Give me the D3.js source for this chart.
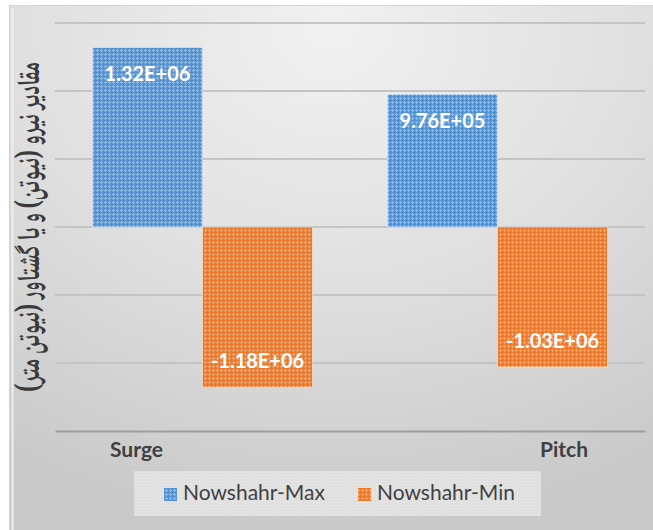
<!DOCTYPE html>
<html>
<head>
<meta charset="utf-8">
<script src="https://cdn.jsdelivr.net/npm/d3@7"></script>
<style>
  body { margin: 0; background: #ffffff; }
  svg { display: block; }
</style>
</head>
<body>
<svg id="chart" width="653" height="530"></svg>
<script>
// Chart data
const categories = ["Surge", "Pitch"];
const seriesNames = ["Nowshahr-Max", "Nowshahr-Min"];
const maxValues = [1.32e6, 9.76e5];
const minValues = [-1.18e6, -1.03e6];
const yTicks = [-1.5e6, -1e6, -5e5, 0, 5e5, 1e6, 1.5e6];
const yTitle = "مقادیر نیرو (نیوتن) و یا گشتاور (نیوتن متر)";

const seriesColors = {
  "Nowshahr-Max": { base: "#5693d3", light: "#8ebbe6" },
  "Nowshahr-Min": { base: "#ec7a2e", light: "#f5a56c" }
};

const rows = categories.map((c, i) => ({
  category: c,
  values: [
    { series: seriesNames[0], value: maxValues[i] },
    { series: seriesNames[1], value: minValues[i] }
  ]
}));

// Excel-style scientific label, e.g. 1.32E+06
function sci(v) {
  const [m, e] = v.toExponential(2).split("e");
  return m + "E" + e[0] + e.slice(1).padStart(2, "0");
}

const svg = d3.select("#chart");
const W = 653, H = 530;
const plot = { left: 55, right: 645, top: 23, bottom: 431 };

const defs = svg.append("defs");

// Chart-area background
const bg = defs.append("radialGradient").attr("id", "bgGrad")
  .attr("cx", "50%").attr("cy", "5%").attr("r", "95%")
  .attr("fx", "50%").attr("fy", "5%");
bg.append("stop").attr("offset", "0%").attr("stop-color", "#f1f1f1");
bg.append("stop").attr("offset", "50%").attr("stop-color", "#e0e0e0");
bg.append("stop").attr("offset", "100%").attr("stop-color", "#c9c9c9");

// Small dotted-cross fill for bars and legend keys
seriesNames.forEach((s, i) => {
  const p = defs.append("pattern").attr("id", "pat" + i)
    .attr("width", 4).attr("height", 4).attr("patternUnits", "userSpaceOnUse");
  p.append("rect").attr("width", 4).attr("height", 4).attr("fill", seriesColors[s].base);
  p.append("rect").attr("x", 1).attr("y", 2).attr("width", 3).attr("height", 1).attr("fill", seriesColors[s].light);
  p.append("rect").attr("x", 2).attr("y", 1).attr("width", 1).attr("height", 3).attr("fill", seriesColors[s].light);
});

// Faint texture for the legend box
const lp = defs.append("pattern").attr("id", "legPat")
  .attr("width", 3).attr("height", 3).attr("patternUnits", "userSpaceOnUse");
lp.append("rect").attr("width", 3).attr("height", 3).attr("fill", "#e0e0e0");
lp.append("rect").attr("x", 1).attr("y", 1).attr("width", 1).attr("height", 1).attr("fill", "#ebebeb");

// Frame
svg.append("rect").attr("x", 9).attr("y", 5).attr("width", W - 9).attr("height", H - 5)
  .attr("fill", "url(#bgGrad)");
svg.append("rect").attr("x", 9.5).attr("y", 5.5).attr("width", W - 9).attr("height", H - 5)
  .attr("fill", "none").attr("stroke", "#d4d4d4").attr("stroke-width", 1);
svg.append("line").attr("x1", 12.5).attr("x2", 12.5).attr("y1", 8).attr("y2", H)
  .attr("stroke", "#eeeeee").attr("stroke-width", 2);

// Scales
const x0 = d3.scaleBand().domain(categories).range([plot.left, plot.right]).paddingInner(0).paddingOuter(0);
const x1 = d3.scaleBand().domain(seriesNames).range([0, x0.bandwidth()]).paddingInner(0).paddingOuter(0.341);
const y = d3.scaleLinear().domain([-1.5e6, 1.5e6]).range([plot.bottom, plot.top]);

// Gridlines
svg.append("g").selectAll("line").data(yTicks.filter(t => t !== -1.5e6)).join("line")
  .attr("x1", plot.left).attr("x2", plot.right)
  .attr("y1", d => y(d)).attr("y2", d => y(d))
  .attr("stroke", "#c4c4c4").attr("stroke-width", 2);

// Category axis line
const xAxis = svg.append("g").attr("transform", `translate(0,${y(-1.5e6)})`)
  .call(d3.axisBottom(x0).tickSize(0).tickFormat(""));
xAxis.select(".domain").attr("stroke", "#9d9d9d").attr("stroke-width", 2);

// Bars
const groups = svg.append("g").selectAll("g").data(rows).join("g")
  .attr("transform", d => `translate(${x0(d.category)},0)`);

groups.selectAll("rect").data(d => d.values).join("rect")
  .attr("x", d => x1(d.series))
  .attr("width", x1.bandwidth())
  .attr("y", d => y(Math.max(0, d.value)))
  .attr("height", d => Math.abs(y(d.value) - y(0)))
  .attr("fill", d => "url(#pat" + seriesNames.indexOf(d.series) + ")")
  .attr("stroke", "rgba(255,255,255,0.45)").attr("stroke-width", 1);

// Value labels, inside the bar end
groups.selectAll("text.val").data(d => d.values).join("text")
  .attr("class", "val")
  .attr("x", d => x1(d.series) + x1.bandwidth() / 2)
  .attr("y", d => d.value >= 0 ? y(d.value) + 34 : y(d.value) - 19)
  .attr("text-anchor", "middle")
  .attr("font-family", "Lato, 'Open Sans', sans-serif")
  .attr("font-weight", "bold")
  .attr("font-size", 20)
  .attr("fill", "#ffffff")
  .text(d => sci(d.value));

// Category labels
svg.append("g").selectAll("text").data(categories).join("text")
  .attr("x", (d, i) => i === 0 ? x0(d) + 55 : x0(d) + x0.bandwidth() - 57)
  .attr("y", 457)
  .attr("text-anchor", (d, i) => i === 0 ? "start" : "end")
  .attr("font-family", "Lato, 'Open Sans', sans-serif")
  .attr("font-weight", "bold")
  .attr("font-size", 21)
  .attr("fill", "#404040")
  .text(d => d);

// Vertical axis title (compact Arabic script, stretched across the line height)
const yt = svg.append("text")
  .attr("text-anchor", "middle")
  .attr("direction", "rtl")
  .attr("font-family", "'Noto Naskh Arabic', 'Noto Sans Arabic', 'DejaVu Sans', sans-serif")
  .attr("font-weight", "bold")
  .attr("font-size", 16)
  .attr("fill", "#3a3a3a")
  .text(yTitle);
const ytLen = yt.node().getComputedTextLength();
if (ytLen > 0) yt.attr("font-size", 16 * 330 / ytLen);
yt.attr("transform", `translate(39,${(plot.top + plot.bottom) / 2}) rotate(-90) scale(1,1.6)`);

// Legend
const legend = svg.append("g");
legend.append("rect").attr("x", 134).attr("y", 471).attr("width", 407).attr("height", 45)
  .attr("fill", "url(#legPat)");
const legX = [164, 358];
seriesNames.forEach((s, i) => {
  legend.append("rect").attr("x", legX[i]).attr("y", 488).attr("width", 13).attr("height", 13)
    .attr("fill", "url(#pat" + i + ")");
  legend.append("text").attr("x", legX[i] + 19).attr("y", 500)
    .attr("font-family", "Lato, 'Open Sans', sans-serif")
    .attr("font-size", 21)
    .attr("fill", "#404040")
    .text(s);
});
</script>
</body>
</html>
